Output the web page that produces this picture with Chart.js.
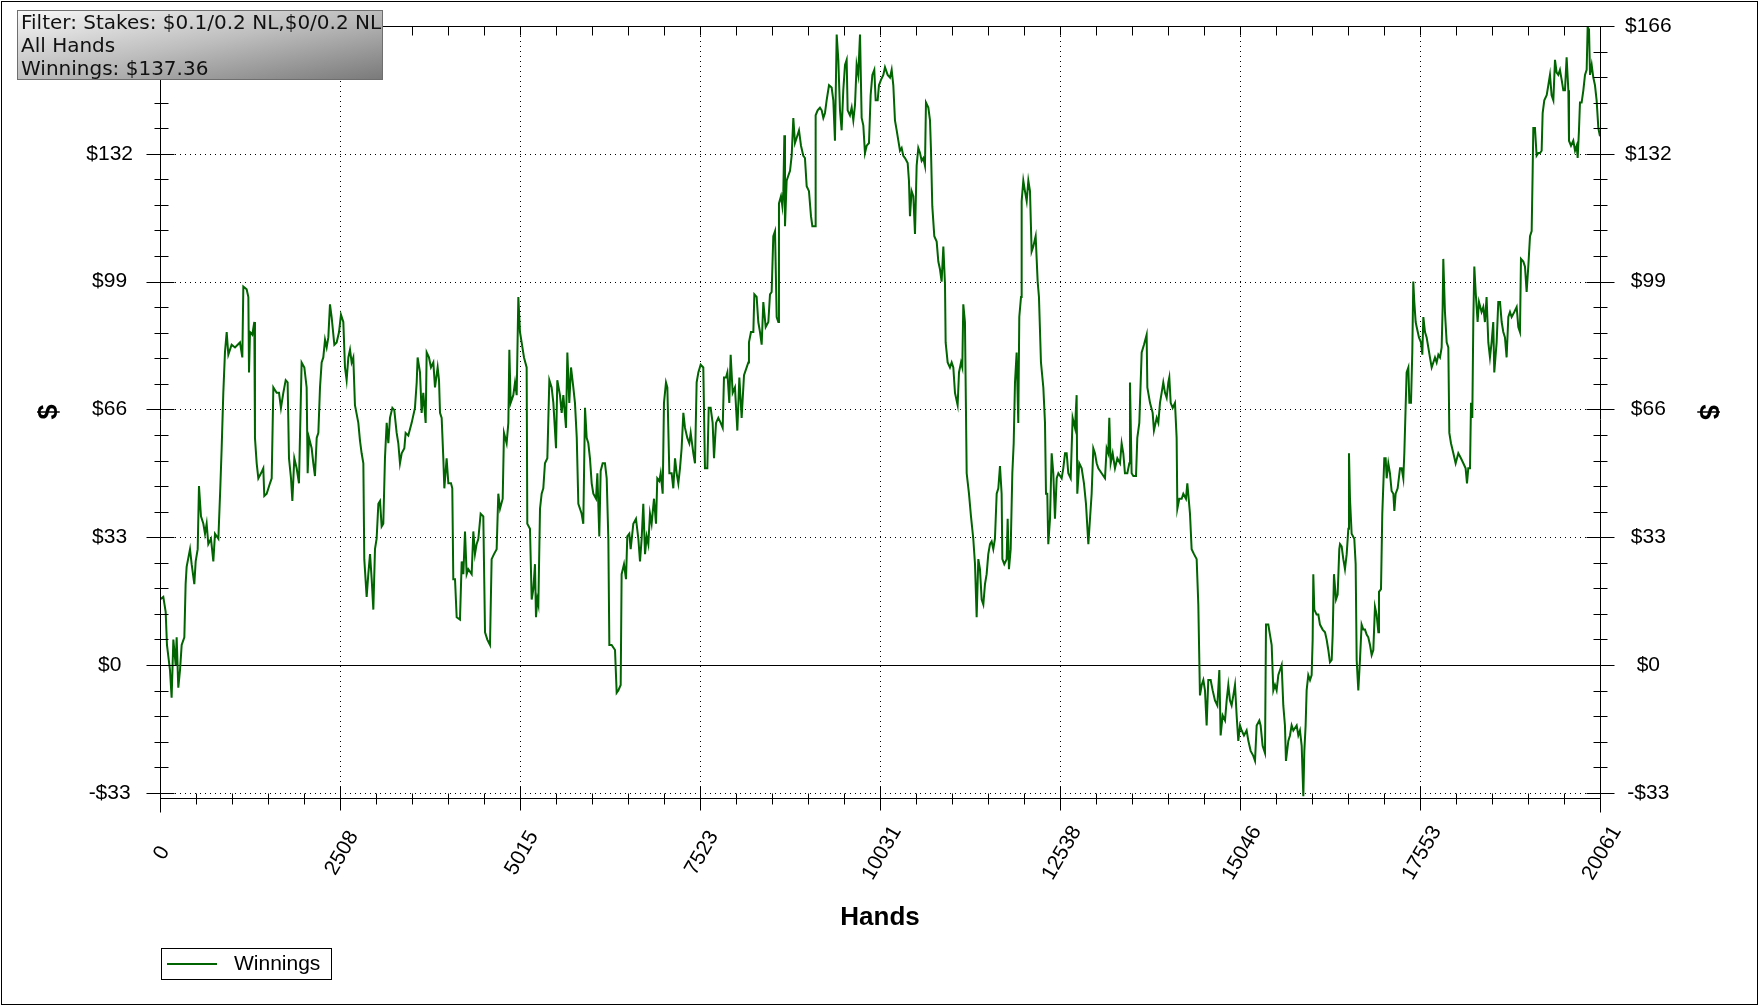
<!DOCTYPE html>
<html><head><meta charset="utf-8">
<script src="https://cdn.jsdelivr.net/npm/chart.js@4/dist/chart.umd.min.js"></script>
<style>html,body{margin:0;padding:0;background:#fff;}canvas{display:block;}</style>
</head><body>
<canvas id="c" width="1760" height="1006"></canvas>
<script>
const hands = [0,46,79,97,139,162,186,218,232,255,279,302,339,357,371,418,441,478,497,525,543,571,604,627,650,673,710,743,766,813,840,859,882,905,929,952,998,1045,1114,1147,1161,1207,1231,1240,1254,1286,1314,1323,1347,1370,1407,1439,1453,1486,1532,1556,1579,1625,1658,1685,1718,1751,1778,1797,1825,1844,1871,1904,1936,1973,2011,2043,2057,2076,2113,2136,2159,2183,2206,2229,2252,2275,2299,2322,2345,2368,2391,2429,2461,2494,2521,2554,2577,2600,2624,2647,2670,2693,2716,2763,2786,2809,2833,2846,2879,2902,2926,2949,2972,2995,3018,3042,3065,3088,3111,3134,3158,3181,3204,3237,3264,3297,3320,3343,3367,3404,3422,3459,3506,3552,3576,3589,3622,3645,3668,3701,3715,3747,3775,3808,3831,3868,3887,3901,3924,3947,3961,3993,4017,4054,4072,4086,
4110,4133,4179,4203,4226,4249,4272,4295,4342,4365,4388,4411,4435,4467,4504,4528,4560,4597,4620,4653,4690,4713,4737,4774,4792,4829,4853,4867,4885,4922,4946,4969,4992,5015,5038,5071,5108,5117,5154,5178,5201,5224,5238,5257,5271,5294,5317,5340,5363,5396,5424,5456,5480,5517,5535,5572,5596,5619,5656,5675,5702,5726,5758,5781,5806,5828,5874,5897,5921,5944,5967,5990,6014,6037,6074,6093,6120,6139,6167,6199,6223,6246,6260,6292,6339,6362,6385,6418,6431,6464,6492,6510,6538,6557,6594,6631,6664,6687,6710,6733,6757,6780,6803,6826,6849,6882,6910,6928,6956,6975,7003,7021,7049,7068,7096,7128,7151,7175,7198,7221,7244,7267,7291,7314,7346,7374,7393,7430,7453,7476,7500,7532,7569,7592,7625,7644,7671,7699,7718,7746,7778,7811,7839,7857,7885,7904,7931,7950,7978,8010,8043,8071,8103,8136,8173,8196,
8205,8233,8266,8280,8312,8335,8359,8382,8405,8438,8475,8498,8521,8544,8568,8591,8614,8623,8651,8670,8684,8698,8707,8730,8753,8777,8800,8823,8846,8869,8902,8930,8962,8985,9009,9041,9069,9088,9125,9134,9162,9194,9218,9241,9264,9287,9320,9357,9380,9403,9427,9450,9473,9496,9519,9543,9566,9580,9612,9636,9659,9682,9705,9728,9752,9775,9798,9821,9845,9877,9900,9924,9951,9970,9998,10016,10044,10077,10100,10137,10170,10193,10216,10239,10263,10286,10309,10332,10355,10379,10416,10434,10448,10471,10495,10518,10541,10564,10588,10611,10634,10657,10671,10704,10727,10741,10759,10787,10820,10843,10866,10889,10913,10936,10945,10973,11005,11029,11052,11075,11112,11131,11159,11177,11191,11214,11238,11270,11298,11330,11354,11377,11400,11423,11447,11470,11493,11516,11539,11563,11586,11609,11632,11656,11679,11702,11725,11735,11762,11795,11809,11827,11851,11874,11893,11911,11934,11957,11971,11995,12004,12027,12050,12074,12097,12120,12143,12166,12199,12227,12245,12273,12306,
12329,12343,12361,12375,12399,12422,12445,12468,12492,12515,12561,12584,12608,12631,12654,12687,12714,12747,12770,12779,12807,12840,12872,12900,12933,12956,12979,13002,13025,13049,13072,13118,13165,13188,13211,13225,13244,13272,13304,13337,13374,13397,13420,13443,13476,13504,13513,13536,13560,13597,13615,13643,13676,13708,13745,13755,13792,13829,13847,13885,13908,13931,13954,13977,14001,14024,14047,14061,14080,14108,14140,14163,14173,14200,14233,14256,14293,14312,14349,14372,14405,14442,14465,14488,14512,14535,14558,14581,14604,14637,14665,14697,14730,14758,14776,14804,14837,14860,14883,14906,14929,14953,14976,14999,15022,15046,15069,15101,15138,15162,15194,15231,15255,15278,15315,15333,15361,15394,15408,15440,15463,15487,15510,15533,15556,15580,15603,15626,15649,15672,15686,15719,15742,15765,15789,15835,15858,15881,15905,15928,15942,15960,15974,15997,16021,16044,16058,16067,16081,16113,16137,16160,16197,16230,16253,16276,16299,16323,16337,16355,16383,16406,16429,
16439,16462,16485,16508,16532,16555,16564,16578,16601,16638,16657,16671,16694,16717,16740,16764,16787,16810,16833,16857,16880,16903,16926,16949,16973,16982,17010,17028,17056,17075,17089,17112,17135,17158,17182,17196,17214,17242,17275,17298,17321,17335,17353,17367,17391,17405,17428,17446,17460,17474,17493,17507,17539,17567,17586,17600,17623,17646,17669,17692,17716,17739,17762,17785,17809,17832,17855,17869,17878,17901,17925,17948,17962,17985,18018,18050,18087,18124,18157,18189,18208,18226,18250,18264,18282,18296,18310,18329,18356,18375,18411,18435,18458,18481,18505,18528,18551,18574,18588,18621,18644,18668,18691,18714,18737,18760,18784,18807,18830,18867,18900,18923,18946,18960,18993,19016,19039,19062,19086,19109,19123,19132,19155,19178,19202,19225,19248,19262,19285,19318,19341,19364,19387,19411,19434,19457,19480,19503,19527,19550,19573,19596,19620,19629,19657,19689,19713,19736,19750,19768,19782,19805,19829,19852,19875,19889,19908,19922,19945,19968,19991,20014,20038,20061];

const winnings = [17.0,17.7,13.8,5.2,-1.3,-8.5,6.6,0,7.2,-5.9,-1.3,5.2,7.2,21.0,25.5,30.1,26.2,21.0,26.9,30.1,46.5,38.6,36.7,34.1,36.7,31.4,32.8,26.9,34.1,32.8,45.9,56.3,70.7,81.2,86.5,80.6,83.2,82.5,83.8,79.9,98.3,97.6,95.6,76.0,86.5,85.8,89.1,59.0,52.4,48.5,49.8,51.1,43.9,44.5,47.2,48.5,72.1,70.7,70.7,66.8,70.7,74.0,73.4,53.7,48.5,42.6,53.7,51.1,47.2,78.6,77.3,72.1,49.8,59.0,56.3,52.4,49.1,59.0,60.3,72.1,78.6,79.9,84.5,82.5,85.1,93.7,90.4,83.2,83.8,86.5,91.0,89.1,77.3,74.0,79.9,81.9,78.6,79.9,67.5,62.9,58.3,55.0,52.4,27.5,17.7,23.6,28.8,22.3,14.4,30.1,32.8,41.9,42.6,36.0,36.7,53.7,62.9,57.6,64.2,66.8,66.2,60.3,57.6,52.4,55.0,56.3,60.3,59.6,62.9,66.8,73.4,79.9,76.0,65.5,70.7,62.9,81.2,79.9,77.3,78.6,72.1,77.3,74.0,65.5,64.2,53.7,45.9,53.7,47.2,47.2,45.9,22.3,
22.3,12.4,11.8,26.9,23.6,34.7,23.6,24.9,23.6,34.7,28.8,31.4,32.8,39.3,38.6,8.5,6.6,5.2,27.5,28.8,30.1,44.5,40.6,43.2,60.3,57.6,62.9,81.9,68.1,70.1,73.4,70.1,95.6,86.5,83.8,79.9,77.3,36.7,35.4,17.0,19.7,26.2,12.4,17.0,15.7,40.6,44.5,45.9,52.4,53.7,74.0,72.1,68.1,56.3,74.0,70.1,65.5,70.1,61.6,81.2,68.1,77.3,72.1,68.1,59.0,41.9,39.3,36.7,66.8,59.0,57.6,53.7,47.2,44.5,43.2,49.8,33.4,50.4,52.4,52.4,48.5,32.8,5.2,5.2,3.9,-7.2,-6.6,-5.2,23.6,26.2,22.3,33.4,34.1,30.1,36.7,38.0,32.8,26.9,32.8,41.9,28.8,33.4,31.4,39.3,36.7,43.2,36.7,48.5,47.8,49.8,44.5,68.1,73.4,72.1,49.8,49.8,45.9,53.7,49.8,47.2,51.1,56.3,65.5,61.6,59.0,57.6,60.3,55.0,52.4,73.4,76.0,78.0,77.3,51.1,51.1,66.8,66.8,62.9,53.7,62.9,64.2,62.9,61.6,74.7,74.7,76.0,68.1,80.6,70.7,72.1,60.9,74.7,64.2,75.3,77.3,78.6,
83.8,86.5,86.5,96.3,95.6,89.1,86.5,83.2,94.3,87.8,89.1,96.3,96.9,111.4,112.7,90.4,89.1,119.9,121.8,119.2,123.1,137.6,114.0,125.8,127.1,128.4,132.3,142.1,135.6,136.9,138.9,134.9,132.3,131.7,124.4,123.1,116.6,114.0,114.0,142.8,144.1,144.8,144.1,142.1,143.4,146.7,150.6,150.0,146.7,136.2,163.8,157.2,144.1,138.9,149.3,155.9,157.2,144.1,142.8,144.8,141.5,145.4,155.9,153.3,163.8,142.1,140.2,133.0,134.9,135.6,148.0,153.3,154.6,146.7,146.7,150.6,152.0,153.3,155.3,153.3,152.6,154.6,150.6,141.5,138.9,136.2,133.6,134.3,132.3,131.7,130.4,125.8,116.6,123.1,121.8,112.0,129.7,134.3,133.0,131.0,131.7,129.7,146.1,144.8,141.5,133.6,119.2,111.4,110.0,104.8,102.8,99.6,108.7,98.9,83.8,78.6,77.3,78.6,77.3,70.7,67.5,76.0,78.6,77.3,93.7,89.1,49.8,44.5,38.6,32.8,26.2,12.4,27.5,24.9,17.0,15.7,21.0,23.6,28.8,31.4,32.1,30.1,32.8,44.5,45.9,51.7,44.5,27.5,26.2,27.5,38.0,24.9,30.1,49.8,57.6,73.4,81.2,62.9,90.4,95.6,120.5,125.8,123.1,120.5,125.8,123.1,107.4,108.7,111.4,99.6,95.6,78.6,72.1,
62.9,44.5,44.5,31.4,38.0,55.0,49.8,38.0,48.5,49.8,48.5,51.1,55.0,55.0,49.8,48.5,64.2,61.6,70.1,44.5,52.4,51.1,47.2,41.9,31.4,38.0,44.5,56.3,55.0,52.4,51.1,49.8,48.5,56.3,55.0,64.2,52.4,55.0,51.1,53.7,52.4,57.6,55.0,49.8,49.8,52.4,73.4,49.8,49.1,49.1,59.0,62.9,81.2,83.2,85.8,72.1,68.1,65.5,60.9,64.2,62.9,68.1,70.7,73.4,70.7,69.4,73.4,74.7,68.1,66.8,68.1,59.0,40.6,43.2,43.2,44.5,43.2,47.2,39.3,30.1,28.8,27.5,15.7,-7.9,-5.2,-3.9,-6.6,-15.7,-3.9,-3.9,-6.6,-9.2,-10.5,-1.3,-18.3,-13.1,-14.4,-9.2,-5.2,-9.2,-10.5,-7.9,-5.2,-13.1,-19.7,-15.7,-17.0,-18.3,-17.0,-19.7,-22.3,-23.6,-24.9,-15.7,-14.4,-15.7,-21.0,-22.9,10.5,10.5,7.9,5.2,-6.6,-5.2,-6.6,-2.6,-1.3,0,-10.5,-15.7,-24.9,-19.7,-18.3,-15.7,-17.0,-15.7,-18.3,-17.0,-21.0,-34.1,-22.3,-15.7,-6.6,-2.6,-3.9,-2.6,6.6,23.6,14.4,13.1,13.1,10.5,9.2,8.5,6.6,3.9,0.7,1.3,7.9,23.6,17.0,18.3,30.1,
31.4,30.8,27.5,24.9,28.8,35.4,55.0,43.2,34.1,32.8,26.2,1.3,-6.6,1.3,10.5,9.2,9.2,7.9,7.2,5.2,2.6,3.9,15.1,13.1,8.5,19.0,19.7,39.3,53.7,53.7,48.5,52.4,49.8,45.2,44.5,40.0,44.5,45.9,51.1,51.1,48.5,55.0,66.8,76.0,77.3,68.1,68.1,81.2,99.6,94.3,89.1,87.8,85.1,83.8,80.6,90.4,86.5,85.1,82.5,79.9,77.3,78.6,79.9,78.6,80.6,79.9,82.5,93.0,105.5,91.7,83.8,82.5,60.3,57.6,55.0,52.4,55.0,53.7,52.4,51.1,47.2,51.1,51.1,68.1,64.2,89.1,103.5,96.9,89.1,94.3,91.7,93.0,89.1,95.6,83.8,79.9,83.8,89.1,76.0,83.8,94.3,94.3,89.1,86.5,85.1,79.9,90.4,91.7,90.4,91.7,93.0,87.8,86.5,105.5,104.8,103.5,96.9,103.5,111.4,112.7,128.4,139.5,139.5,132.3,133.0,133.0,133.6,143.4,146.7,148.0,150.6,153.3,148.0,146.7,157.2,153.9,153.3,154.6,152.0,149.3,149.3,157.9,149.3,136.2,134.9,136.2,133.6,134.9,131.7,138.9,146.1,146.1,149.3,153.3,154.6,165.7,165.1,153.3,155.9,152.6,150.6,146.7,139.5,137.36];

const xTickValues = [0, 2507.6, 5015.3, 7522.9, 10030.5, 12538.1, 15045.8, 17553.4, 20061];
const xTickLabels = ['0','2508','5015','7523','10031','12538','15046','17553','20061'];
const yTickValues = [-33.2, 0, 33.2, 66.4, 99.6, 132.8, 166];
const yTickLabels = ['-$33','$0','$33','$66','$99','$132','$166'];
const yMin = -34.55, yMax = 166;
const filterLines = ['Filter: Stakes: $0.1/0.2 NL,$0/0.2 NL', 'All Hands', 'Winnings: $137.36'];
const seriesName = 'Winnings';
const xTitle = 'Hands';
const yTitle = '$';

const LINE_COLOR = '#006400';
const FONT = "'Liberation Sans', Arial, sans-serif";

function minorsBetween(arr){
  const out=[];
  for(let i=0;i<arr.length-1;i++){
    const a=arr[i], b=arr[i+1];
    for(let k=1;k<5;k++) out.push(a+(b-a)*k/5);
  }
  return out;
}

const decor = {
  id:'decor',
  beforeDraw(chart){
    const c=chart.ctx; c.save(); c.fillStyle='#fff'; c.fillRect(0,0,chart.width,chart.height); c.restore();
  },
  beforeDatasetsDraw(chart){
    const c=chart.ctx, a=chart.chartArea, xs=chart.scales.x, ys=chart.scales.y;
    c.save();
    c.strokeStyle='#000'; c.lineWidth=1;
    c.setLineDash([1,4]);
    xTickValues.forEach((v,i)=>{
      if(i===0||i===xTickValues.length-1) return;
      const px=Math.round(xs.getPixelForValue(v))+0.5;
      c.beginPath(); c.moveTo(px,a.top); c.lineTo(px,a.bottom); c.stroke();
    });
    yTickValues.forEach(v=>{
      if(v===0||v===yMax) return;
      const py=Math.round(ys.getPixelForValue(v))+0.5;
      c.beginPath(); c.moveTo(a.left,py); c.lineTo(a.right,py); c.stroke();
    });
    c.setLineDash([]);
    const pz=Math.round(ys.getPixelForValue(0))+0.5;
    c.beginPath(); c.moveTo(a.left,pz); c.lineTo(a.right,pz); c.stroke();
    c.restore();
  },
  afterDatasetsDraw(chart){
    const c=chart.ctx, a=chart.chartArea, xs=chart.scales.x, ys=chart.scales.y;
    c.save();
    c.strokeStyle='#000'; c.lineWidth=1;
    const L=Math.round(a.left)+0.5, R=Math.round(a.right)+0.5, T=Math.round(a.top)+0.5, B=Math.round(a.bottom)+0.5;
    const seg=(x1,y1,x2,y2)=>{c.beginPath();c.moveTo(x1,y1);c.lineTo(x2,y2);c.stroke();};
    seg(L,T,R,T); seg(L,B,R,B);
    seg(L,T,L,B+14); seg(R,T,R,B+14);
    yTickValues.forEach(v=>{
      const py=Math.round(ys.getPixelForValue(v))+0.5;
      seg(L-14,py,L+14,py); seg(R-14,py,R+14,py);
    });
    minorsBetween(yTickValues).forEach(v=>{
      const py=Math.round(ys.getPixelForValue(v))+0.5;
      seg(L-6,py,L+8,py); seg(R-7,py,R+7,py);
    });
    xTickValues.forEach(v=>{
      const px=Math.round(xs.getPixelForValue(v))+0.5;
      seg(px,B-12,px,B+12); seg(px,T,px,T+9);
    });
    minorsBetween(xTickValues).forEach(v=>{
      const px=Math.round(xs.getPixelForValue(v))+0.5;
      seg(px,B-5,px,B+6); seg(px,T,px,T+9);
    });
    c.fillStyle='#000'; c.font='21px '+FONT; c.textAlign='center'; c.textBaseline='middle';
    xTickValues.forEach((v,i)=>{
      const px=xs.getPixelForValue(v);
      c.save(); c.translate(px+2, a.bottom+55); c.rotate(-60*Math.PI/180);
      c.fillText(xTickLabels[i],0,0); c.restore();
    });
    c.strokeStyle='#000'; c.lineWidth=1;
    c.strokeRect(161.5,948.5,170,31);
    c.strokeStyle=LINE_COLOR; c.lineWidth=2;
    seg(167,964,217,964);
    c.fillStyle='#000'; c.font='21px '+FONT; c.textAlign='left'; c.textBaseline='middle';
    c.fillText(seriesName,234,964);
    const g=c.createLinearGradient(17,10,42,143);
    g.addColorStop(0,'#f8f8f8'); g.addColorStop(0.5,'#bdbdbd'); g.addColorStop(1,'#7a7a7a');
    c.fillStyle=g; c.fillRect(17,10,365,69);
    c.strokeStyle='#6e6e6e'; c.lineWidth=1; c.strokeRect(17.5,10.5,365,69);
    c.fillStyle='#111'; c.font="20px 'DejaVu Sans', Verdana, sans-serif"; c.textBaseline='alphabetic';
    const base=[29,52,75];
    filterLines.forEach((t,i)=>c.fillText(t,21,base[i]));
    c.strokeStyle='#000'; c.lineWidth=1; c.strokeRect(1.5,1.5,1756,1003);
    c.restore();
  }
};

const points = hands.map((h,i)=>({x:h, y:winnings[i]}));
const zeroPad = s=>{s.paddingTop=0; s.paddingBottom=0;};

new Chart(document.getElementById('c').getContext('2d'), {
  type:'line',
  data:{datasets:[{label:seriesName, data:points, borderColor:LINE_COLOR, borderWidth:2, pointRadius:0, tension:0, fill:false, yAxisID:'y', xAxisID:'x'}]},
  options:{
    responsive:false, animation:false, devicePixelRatio:1,
    layout:{padding:{top:26,left:0,right:0,bottom:0}},
    plugins:{legend:{display:false}, tooltip:{enabled:false}},
    scales:{
      x:{type:'linear', position:'bottom', min:0, max:20061,
        afterBuildTicks:s=>{s.ticks=xTickValues.map(v=>({value:v}));},
        afterFit:s=>{s.height=208; s.paddingLeft=0; s.paddingRight=0;},
        grid:{display:false, drawTicks:false}, border:{display:false},
        ticks:{display:false},
        title:{display:true, text:xTitle, color:'#000', font:{family:FONT, size:26, weight:'bold'}, padding:{top:0,bottom:73}}
      },
      y:{type:'linear', position:'left', min:yMin, max:yMax,
        afterBuildTicks:s=>{s.ticks=yTickValues.map(v=>({value:v}));},
        afterFit:s=>{s.width=160; zeroPad(s);},
        grid:{display:false, drawTicks:false}, border:{display:false},
        ticks:{color:'#000', font:{family:FONT, size:21}, padding:27, crossAlign:'center', autoSkip:false,
          callback:(v,i)=>yTickLabels[i]},
        title:{display:true, text:yTitle, color:'#000', font:{family:FONT, size:27, weight:'bold'}, padding:{top:33,bottom:0}}
      },
      y2:{type:'linear', position:'right', min:yMin, max:yMax,
        afterBuildTicks:s=>{s.ticks=yTickValues.map(v=>({value:v}));},
        afterFit:s=>{s.width=160; zeroPad(s);},
        grid:{display:false, drawTicks:false}, border:{display:false},
        ticks:{color:'#000', font:{family:FONT, size:21}, padding:25, crossAlign:'center', autoSkip:false,
          callback:(v,i)=>yTickLabels[i]},
        title:{display:true, text:yTitle, color:'#000', font:{family:FONT, size:27, weight:'bold'}, padding:{top:36,bottom:0}}
      }
    }
  },
  plugins:[decor]
});
</script>
</body></html>
